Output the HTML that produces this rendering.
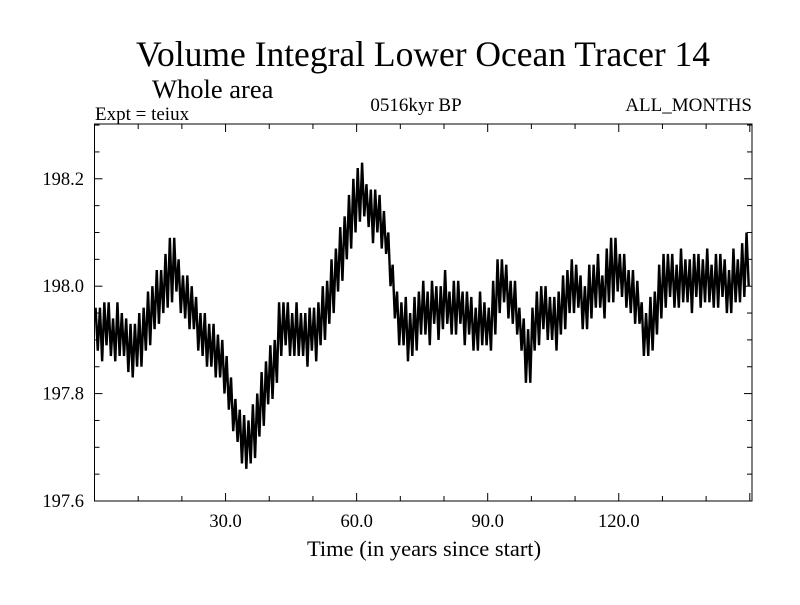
<!DOCTYPE html>
<html><head><meta charset="utf-8"><style>
body{margin:0;background:#fff;}
svg text{font-family:"Liberation Serif",serif;fill:#000;}
</style></head><body>
<svg id="chart" width="800" height="600" viewBox="0 0 800 600" xmlns="http://www.w3.org/2000/svg">
<rect width="800" height="600" fill="#fff"/>
<defs><clipPath id="plotclip"><rect x="94.5" y="124" width="657.5" height="377"/></clipPath></defs>
<text x="423" y="66" font-size="35.5" text-anchor="middle">Volume Integral Lower Ocean Tracer 14</text>
<text x="152" y="98" font-size="26.5">Whole area</text>
<text x="95" y="120" font-size="19">Expt = teiux</text>
<text x="416" y="111" font-size="19" text-anchor="middle">0516kyr BP</text>
<text x="752" y="111" font-size="19" text-anchor="end">ALL_MONTHS</text>
<text x="424" y="556" font-size="22.5" text-anchor="middle">Time (in years since start)</text>
<g id="axes"></g>
<g id="series" clip-path="url(#plotclip)"></g>
<rect x="94.5" y="124" width="657.5" height="377" fill="none" stroke="#000" stroke-width="1"/>
</svg>
<script>
const centers=[197.92,197.91,197.93,197.92,197.90,197.92,197.91,197.89,197.88,197.89,
197.90,197.92,197.94,197.96,197.98,197.99,198.01,198.03,198.04,198.00,
197.98,197.97,197.96,197.93,197.91,197.90,197.89,197.88,197.87,197.85,
197.82,197.78,197.75,197.72,197.71,197.71,197.73,197.76,197.79,197.82,
197.84,197.86,197.92,197.93,197.92,197.91,197.92,197.91,197.90,197.92,
197.91,197.93,197.95,197.97,198.00,198.03,198.06,198.09,198.12,198.15,
198.17,198.18,198.15,198.13,198.14,198.12,198.10,198.05,197.99,197.94,
197.93,197.92,197.91,197.93,197.95,197.96,197.94,197.97,197.95,197.96,
197.98,197.95,197.96,197.97,197.94,197.95,197.93,197.92,197.94,197.93,
197.92,197.96,198.00,198.01,197.99,197.97,197.96,197.92,197.88,197.87,
197.92,197.94,197.96,197.95,197.94,197.93,197.95,197.97,197.99,198.00,
198.00,197.97,197.96,197.99,198.00,198.01,197.98,198.02,198.03,198.04,
198.02,198.01,197.99,197.98,197.97,197.92,197.91,197.93,197.95,197.99,
198.01,198.02,198.01,198.00,198.02,198.01,198.00,198.02,198.01,198.01,
198.02,198.00,198.01,198.02,198.00,197.99,198.02,198.01,198.03,198.05];
const amps=[0.04,0.05,0.04,0.05,0.04,0.05,0.04,0.05,0.05,0.04,
0.05,0.04,0.05,0.04,0.05,0.04,0.05,0.06,0.05,0.05,
0.04,0.05,0.04,0.05,0.04,0.05,0.04,0.05,0.04,0.05,
0.05,0.05,0.04,0.05,0.05,0.04,0.05,0.04,0.05,0.04,
0.05,0.04,0.05,0.04,0.05,0.04,0.05,0.04,0.05,0.04,
0.05,0.04,0.05,0.04,0.05,0.04,0.05,0.04,0.05,0.05,
0.05,0.05,0.04,0.05,0.04,0.05,0.04,0.05,0.05,0.05,
0.04,0.06,0.04,0.05,0.04,0.05,0.05,0.04,0.05,0.04,
0.05,0.04,0.05,0.04,0.05,0.04,0.05,0.04,0.05,0.04,
0.04,0.05,0.05,0.04,0.05,0.04,0.05,0.04,0.06,0.05,
0.04,0.05,0.04,0.05,0.04,0.05,0.04,0.05,0.04,0.05,
0.04,0.05,0.04,0.05,0.04,0.05,0.04,0.05,0.06,0.05,
0.04,0.05,0.04,0.05,0.04,0.05,0.04,0.05,0.04,0.05,
0.05,0.04,0.05,0.04,0.05,0.04,0.05,0.04,0.05,0.04,
0.05,0.04,0.05,0.04,0.05,0.04,0.05,0.04,0.05,0.05];
const xTickLabels=[30,60,90,120];
const yTickLabels=[197.6,197.8,198.0,198.2];
const X0=0,X1=150.5,Y0=197.6,Y1=198.302;
const L=94.5,R=752,T=124,B=501;
function xs(v){return L+(v-X0)/(X1-X0)*(R-L);}
function ys(v){return B-(v-Y0)/(Y1-Y0)*(B-T);}
const NS='http://www.w3.org/2000/svg';
const axes=document.getElementById('axes');
function line(x1,y1,x2,y2,name){const l=document.createElementNS(NS,'line');
l.setAttribute('x1',x1);l.setAttribute('y1',y1);l.setAttribute('x2',x2);l.setAttribute('y2',y2);
l.setAttribute('stroke','#000');l.setAttribute('stroke-width','1');


axes.appendChild(l);}
function text(x,y,s,name){const t=document.createElementNS(NS,'text');
t.setAttribute('x',x);t.setAttribute('y',y);t.setAttribute('font-size','18.5');t.setAttribute('text-anchor',name==='y-tick-label'?'end':'middle');
t.textContent=s;


axes.appendChild(t);}
for(let v=10;v<X1;v+=10){const x=xs(v);const len=(v%30===0)?8:5;
line(x,B,x,B-len,'x-tick');line(x,T,x,T+len,'x-tick-top');}
xTickLabels.forEach(v=>text(xs(v),527,v.toFixed(1),'x-tick-label'));
for(let k=0;k<=14;k++){const v=197.6+k*0.05;if(v>Y1)break;const y=ys(v);const len=(k%4===0)?8:5;
line(L,y,L+len,y,'y-tick');line(R,y,R-len,y,'y-tick-right');}
yTickLabels.forEach(v=>text(84,ys(v)+6,v.toFixed(1),'y-tick-label'));
let pts=[];
centers.forEach((c,i)=>{const a=amps[i];pts.push(xs(i+0.25)+','+ys(c+a));pts.push(xs(i+0.75)+','+ys(c-a));});
const pl=document.createElementNS(NS,'polyline');
pl.setAttribute('points',pts.join(' '));
pl.setAttribute('fill','none');pl.setAttribute('stroke','#000');pl.setAttribute('stroke-width','2.4');pl.setAttribute('stroke-linejoin','miter');


document.getElementById('series').appendChild(pl);
</script>
</body></html>
